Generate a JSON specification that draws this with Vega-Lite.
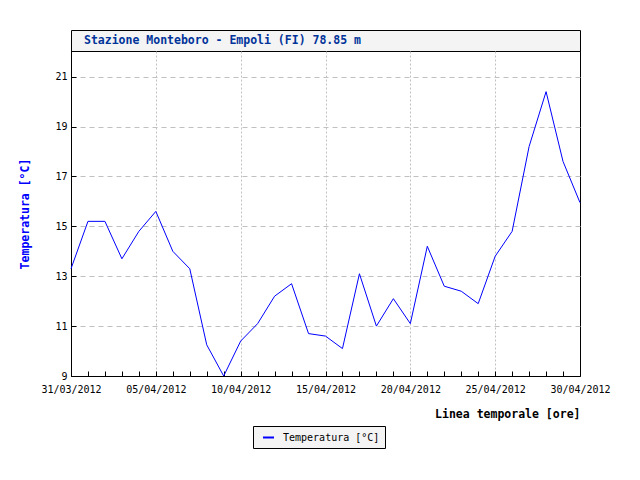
{
  "$schema": "https://vega.github.io/schema/vega-lite/v6.json",
  "background": "white",
  "padding": {"left": 19, "top": 29, "right": 20, "bottom": 20},
  "spacing": 0,
  "bounds": "flush",
  "config": {
    "font": "DejaVu Sans Mono",
    "view": {"stroke": "black", "strokeWidth": 1},
    "concat": {"spacing": 0}
  },
  "vconcat": [
    {
      "width": 509,
      "height": 21,
      "view": {"fill": "#f4f4f4", "stroke": "black", "strokeWidth": 1},
      "data": {"values": [{"label": "Stazione Monteboro - Empoli (FI) 78.85 m"}]},
      "mark": {"type": "text", "align": "left", "baseline": "middle", "font": "DejaVu Sans Mono", "fontWeight": "bold", "fontSize": 11.5, "color": "#00339a"},
      "encoding": {"text": {"field": "label"}, "x": {"value": 13}}
    },
    {
      "width": 509,
      "height": 325,
      "data": {"values": [
        {"date": "2012-03-31", "temp": 13.3},
        {"date": "2012-04-01", "temp": 15.2},
        {"date": "2012-04-02", "temp": 15.2},
        {"date": "2012-04-03", "temp": 13.7},
        {"date": "2012-04-04", "temp": 14.8},
        {"date": "2012-04-05", "temp": 15.6},
        {"date": "2012-04-06", "temp": 14.0},
        {"date": "2012-04-07", "temp": 13.3},
        {"date": "2012-04-08", "temp": 10.25},
        {"date": "2012-04-09", "temp": 9.0},
        {"date": "2012-04-10", "temp": 10.4},
        {"date": "2012-04-11", "temp": 11.1},
        {"date": "2012-04-12", "temp": 12.2},
        {"date": "2012-04-13", "temp": 12.7},
        {"date": "2012-04-14", "temp": 10.7},
        {"date": "2012-04-15", "temp": 10.6},
        {"date": "2012-04-16", "temp": 10.1},
        {"date": "2012-04-17", "temp": 13.1},
        {"date": "2012-04-18", "temp": 11.0},
        {"date": "2012-04-19", "temp": 12.1},
        {"date": "2012-04-20", "temp": 11.1},
        {"date": "2012-04-21", "temp": 14.2},
        {"date": "2012-04-22", "temp": 12.6},
        {"date": "2012-04-23", "temp": 12.4},
        {"date": "2012-04-24", "temp": 11.9},
        {"date": "2012-04-25", "temp": 13.8},
        {"date": "2012-04-26", "temp": 14.8},
        {"date": "2012-04-27", "temp": 18.2},
        {"date": "2012-04-28", "temp": 20.4},
        {"date": "2012-04-29", "temp": 17.6},
        {"date": "2012-04-30", "temp": 15.95}
      ]},
      "mark": {"type": "line", "strokeWidth": 1},
      "encoding": {
        "x": {
          "field": "date",
          "type": "temporal",
          "scale": {
            "type": "utc",
            "domain": [
              {"year": 2012, "month": 3, "date": 31, "utc": true},
              {"year": 2012, "month": 4, "date": 30, "utc": true}
            ],
            "nice": false
          },
          "axis": {
            "title": "Linea temporale [ore]",
            "titleAnchor": "end",
            "titleFont": "DejaVu Sans Mono",
            "titleFontWeight": "bold",
            "titleFontSize": 11.5,
            "titleColor": "black",
            "titlePadding": 14,
            "tickCount": {"interval": "day", "step": 1},
            "labelExpr": "(utcdate(datum.value) % 5 == 0 || utcdate(datum.value) == 31) ? utcFormat(datum.value, '%d/%m/%Y') : ''",
            "labelFont": "DejaVu Sans Mono",
            "labelFontSize": 10,
            "labelColor": "black",
            "labelPadding": 13,
            "labelOverlap": false,
            "labelFlush": false,
            "labelBound": false,
            "tickSize": -5,
            "tickColor": "black",
            "domainColor": "black",
            "grid": true,
            "gridColor": "#c0c0c0",
            "gridDash": [2, 2],
            "gridOpacity": {"condition": {"test": "utcdate(datum.value) % 5 == 0 && utcdate(datum.value) != 30", "value": 1}, "value": 0}
          }
        },
        "y": {
          "field": "temp",
          "type": "quantitative",
          "scale": {"domain": [9, 22.03], "nice": false, "zero": false},
          "axis": {
            "values": [9, 11, 13, 15, 17, 19, 21],
            "title": "Temperatura [°C]",
            "titleColor": "#0000ff",
            "titleFont": "DejaVu Sans Mono",
            "titleFontWeight": "bold",
            "titleFontSize": 11.5,
            "titlePadding": 24,
            "labelFont": "DejaVu Sans Mono",
            "labelFontSize": 10,
            "labelColor": "black",
            "labelPadding": 9,
            "tickSize": -5,
            "tickColor": "black",
            "domainColor": "black",
            "grid": true,
            "gridColor": "#c0c0c0",
            "gridDash": [5, 4]
          }
        },
        "color": {
          "datum": "Temperatura [°C]",
          "scale": {"range": ["#0000ff"]},
          "legend": {
            "title": null,
            "orient": "none",
            "legendX": 182,
            "legendY": 396,
            "fillColor": "#f4f4f4",
            "strokeColor": "black",
            "padding": 5,
            "symbolType": "stroke",
            "symbolStrokeWidth": 2,
            "symbolSize": 121,
            "symbolOffset": 4,
            "labelFont": "DejaVu Sans Mono",
            "labelFontSize": 10,
            "labelColor": "black",
            "labelOffset": 8
          }
        }
      }
    }
  ]
}
